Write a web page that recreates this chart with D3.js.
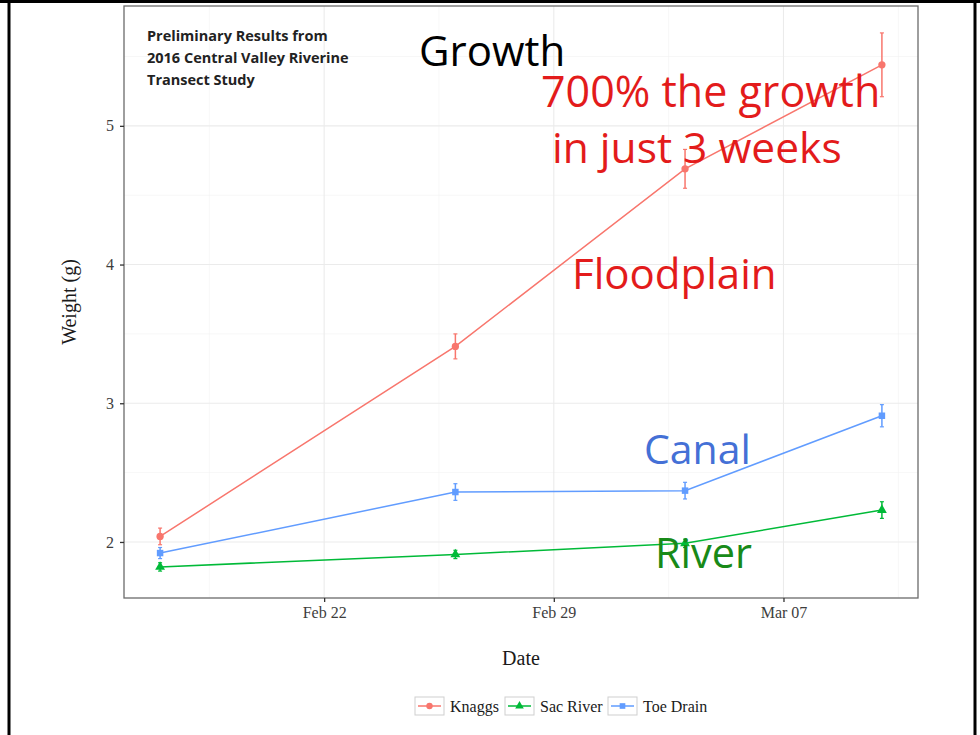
<!DOCTYPE html>
<html>
<head>
<meta charset="utf-8">
<script src="https://cdn.jsdelivr.net/npm/d3@7"></script>
<style>
body { margin: 0; background: #fff; }
svg { display: block; }
</style>
</head>
<body>
<div id="chart"></div>
<script>
// sampling dates
var dates = ["2016-02-17", "2016-02-26", "2016-03-04", "2016-03-10"];

// mean weight (g) and error half-width per site
var knaggs     = [2.04, 3.41, 4.69, 5.44];
var knaggsErr  = [0.06, 0.09, 0.14, 0.23];
var sacRiver    = [1.82, 1.91, 1.99, 2.23];
var sacRiverErr = [0.03, 0.03, 0.03, 0.06];
var toeDrain    = [1.92, 2.36, 2.37, 2.91];
var toeDrainErr = [0.04, 0.06, 0.06, 0.08];

var siteNames = ["Knaggs", "Sac River", "Toe Drain"];
var siteColors = ["#F8766D", "#00BA38", "#619CFF"];
var siteShapes = [d3.symbolCircle, d3.symbolTriangle, d3.symbolSquare];

var yTicks = [2, 3, 4, 5];

var noteLines = ["Preliminary Results from", "2016 Central Valley Riverine", "Transect Study"];

var W = 980, H = 735;
var panel = { left: 124, right: 918, top: 6, bottom: 598 };

var parse = d3.timeParse("%Y-%m-%d");
var days = dates.map(parse);

var series = [
    { name: siteNames[0], vals: knaggs, err: knaggsErr },
    { name: siteNames[1], vals: sacRiver, err: sacRiverErr },
    { name: siteNames[2], vals: toeDrain, err: toeDrainErr }
];
series.forEach(function(s, i) {
    s.color = siteColors[i];
    s.shape = siteShapes[i];
    s.points = s.vals.map(function(v, j) { return { date: days[j], v: v, e: s.err[j] }; });
});

// ggplot style 5% expansion
var xExt = d3.extent(days);
var xPad = (xExt[1] - xExt[0]) * 0.05;
var x = d3.scaleTime()
    .domain([new Date(+xExt[0] - xPad), new Date(+xExt[1] + xPad)])
    .range([panel.left, panel.right]);

var yLo = d3.min(series, function(s) { return d3.min(s.points, function(p) { return p.v - p.e; }); });
var yHi = d3.max(series, function(s) { return d3.max(s.points, function(p) { return p.v + p.e; }); });
var yPad = (yHi - yLo) * 0.05;
var y = d3.scaleLinear()
    .domain([yLo - yPad, yHi + yPad])
    .range([panel.bottom, panel.top]);

var svg = d3.select("#chart").append("svg")
    .attr("width", W)
    .attr("height", H);

svg.append("rect").attr("width", W).attr("height", H).attr("fill", "#fff");

// grid
var xMajor = x.ticks(d3.timeMonday.every(1));
var xMinor = [];
var step = 7 * 864e5;
for (var t = +xMajor[0] - step / 2; t < +x.domain()[1]; t += step) {
    if (t > +x.domain()[0]) xMinor.push(new Date(t));
}
var yMinor = [];
for (var k = 1.5; k < y.domain()[1]; k += 1) {
    if (k > y.domain()[0]) yMinor.push(k);
}

var grid = svg.append("g");
grid.selectAll(".xmin").data(xMinor).enter().append("line")
    .attr("x1", d => x(d)).attr("x2", d => x(d))
    .attr("y1", panel.top).attr("y2", panel.bottom)
    .attr("stroke", "#f2f2f2").attr("stroke-width", 0.6);
grid.selectAll(".ymin").data(yMinor).enter().append("line")
    .attr("x1", panel.left).attr("x2", panel.right)
    .attr("y1", d => y(d)).attr("y2", d => y(d))
    .attr("stroke", "#f2f2f2").attr("stroke-width", 0.6);
grid.selectAll(".xmaj").data(xMajor).enter().append("line")
    .attr("x1", d => x(d)).attr("x2", d => x(d))
    .attr("y1", panel.top).attr("y2", panel.bottom)
    .attr("stroke", "#ebebeb").attr("stroke-width", 1.1);
grid.selectAll(".ymaj").data(yTicks).enter().append("line")
    .attr("x1", panel.left).attr("x2", panel.right)
    .attr("y1", d => y(d)).attr("y2", d => y(d))
    .attr("stroke", "#ebebeb").attr("stroke-width", 1.1);

// series
var line = d3.line().x(d => x(d.date)).y(d => y(d.v));

series.forEach(function(s) {
    var g = svg.append("g");
    g.append("path")
        .datum(s.points)
        .attr("d", line)
        .attr("fill", "none")
        .attr("stroke", s.color)
        .attr("stroke-width", 1.5);

    g.selectAll(".err").data(s.points).enter().append("line")
        .attr("x1", d => x(d.date)).attr("x2", d => x(d.date))
        .attr("y1", d => y(d.v - d.e)).attr("y2", d => y(d.v + d.e))
        .attr("stroke", s.color).attr("stroke-width", 1.5);
    // little caps
    [-1, 1].forEach(function(sg) {
        g.selectAll(".cap" + sg).data(s.points).enter().append("line")
            .attr("x1", d => x(d.date) - 2).attr("x2", d => x(d.date) + 2)
            .attr("y1", d => y(d.v + sg * d.e)).attr("y2", d => y(d.v + sg * d.e))
            .attr("stroke", s.color).attr("stroke-width", 1.2);
    });

    g.selectAll(".pt").data(s.points).enter().append("path")
        .attr("d", d3.symbol().type(s.shape).size(42))
        .attr("transform", d => `translate(${x(d.date)},${y(d.v)})`)
        .attr("fill", s.color);
});

// panel border
svg.append("rect")
    .attr("x", panel.left).attr("y", panel.top)
    .attr("width", panel.right - panel.left)
    .attr("height", panel.bottom - panel.top)
    .attr("fill", "none")
    .attr("stroke", "#6b6b6b")
    .attr("stroke-width", 1.3);

// axes
var serif = "'Liberation Serif', 'DejaVu Serif', serif";

var xAxis = svg.append("g")
    .attr("transform", `translate(0,${panel.bottom})`)
    .call(d3.axisBottom(x).tickValues(xMajor).tickFormat(d3.timeFormat("%b %d")).tickSize(4).tickSizeOuter(0).tickPadding(5));
var yAxis = svg.append("g")
    .attr("transform", `translate(${panel.left},0)`)
    .call(d3.axisLeft(y).tickValues(yTicks).tickFormat(d3.format("d")).tickSize(4).tickSizeOuter(0).tickPadding(6));

[xAxis, yAxis].forEach(function(a) {
    a.select(".domain").remove();
    a.selectAll(".tick line").attr("stroke", "#333").attr("stroke-width", 1.3);
    a.selectAll(".tick text")
        .attr("fill", "#3d3d3d")
        .style("font-family", serif)
        .style("font-size", "16px");
});

svg.append("text")
    .attr("x", (panel.left + panel.right) / 2)
    .attr("y", 665)
    .attr("text-anchor", "middle")
    .style("font-family", serif)
    .style("font-size", "20px")
    .attr("fill", "#1a1a1a")
    .text("Date");

svg.append("text")
    .attr("transform", `translate(76,${(panel.top + panel.bottom) / 2}) rotate(-90)`)
    .attr("text-anchor", "middle")
    .style("font-family", serif)
    .style("font-size", "20px")
    .attr("fill", "#1a1a1a")
    .text("Weight (g)");

// legend
var legendX = [415, 505, 608];
var legend = svg.append("g");
series.forEach(function(s, i) {
    var lg = legend.append("g").attr("transform", `translate(${legendX[i]},697)`);
    lg.append("rect").attr("width", 29).attr("height", 18)
        .attr("fill", "#fff").attr("stroke", "#cfcfcf").attr("stroke-width", 1);
    lg.append("line").attr("x1", 3).attr("x2", 26).attr("y1", 9).attr("y2", 9)
        .attr("stroke", s.color).attr("stroke-width", 1.5);
    lg.append("path")
        .attr("d", d3.symbol().type(s.shape).size(32))
        .attr("transform", "translate(14.5,9)")
        .attr("fill", s.color);
    lg.append("text")
        .attr("x", 35).attr("y", 14.5)
        .style("font-family", serif)
        .style("font-size", "16px")
        .attr("fill", "#1a1a1a")
        .text(s.name);
});

// annotations
var sans = "'Open Sans', 'Noto Sans', sans-serif";
svg.append("text")
    .attr("x", 147).attr("y", 41)
    .style("font-family", sans)
    .style("font-size", "14.5px")
    .style("font-weight", "bold")
    .attr("fill", "#222")
    .selectAll("tspan").data(noteLines).enter().append("tspan")
    .attr("x", 147).attr("dy", (d, i) => i ? 22 : 0)
    .text(d => d);

function bigText(txt, xx, yy, size, col) {
    svg.append("text")
        .attr("x", xx).attr("y", yy)
        .style("font-family", sans)
        .style("font-size", size + "px")
        .attr("fill", col)
        .text(txt);
}
bigText("Growth", 419, 66, 42, "#000");
bigText("700% the growth", 541, 107, 43, "#e31b1b");
bigText("in just 3 weeks", 552, 163, 42.5, "#e31b1b");
bigText("Floodplain", 572, 289, 42, "#e31b1b");
bigText("Canal", 644, 464, 41, "#4470d6");
bigText("River", 655, 568, 41.5, "#188a18");

// outer black frame
svg.append("line").attr("x1", 0).attr("x2", W).attr("y1", 1.5).attr("y2", 1.5)
    .attr("stroke", "#000").attr("stroke-width", 3);
svg.append("line").attr("x1", 9).attr("x2", 9).attr("y1", 0).attr("y2", H)
    .attr("stroke", "#000").attr("stroke-width", 3);
svg.append("line").attr("x1", 975).attr("x2", 975).attr("y1", 0).attr("y2", H)
    .attr("stroke", "#000").attr("stroke-width", 3);
</script>
</body>
</html>
